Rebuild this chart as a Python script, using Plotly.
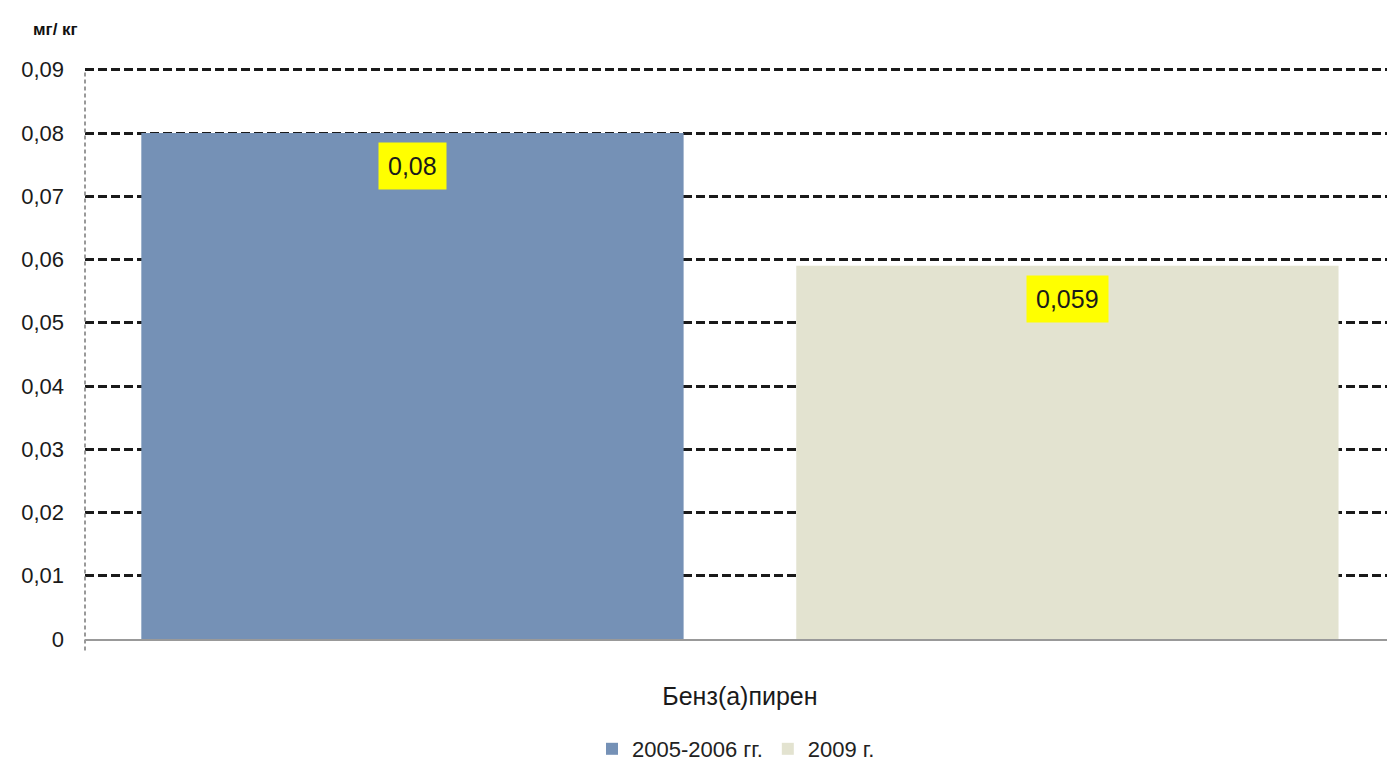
import plotly.graph_objects as go

categories = ["Бенз(а)пирен"]
series_names = ["2005-2006 гг.", "2009 г."]
values_2005 = [0.08]
values_2009 = [0.059]
label_2005 = ["0,08"]
label_2009 = ["0,059"]
tick_vals = [0, 0.01, 0.02, 0.03, 0.04, 0.05, 0.06, 0.07, 0.08, 0.09]
tick_text = ["0", "0,01", "0,02", "0,03", "0,04", "0,05", "0,06", "0,07", "0,08", "0,09"]

FONT = "Liberation Sans, Arial, sans-serif"
blue = "#7591b6"
beige = "#e3e3d0"

fig = go.Figure()
fig.add_trace(go.Bar(x=categories, y=values_2005, name=series_names[0],
                     marker=dict(color=blue, line=dict(width=0))))
fig.add_trace(go.Bar(x=categories, y=values_2009, name=series_names[1],
                     marker=dict(color=beige, line=dict(width=0))))

# data labels
for off, vals, labs in [(-0.25, values_2005, label_2005), (0.25, values_2009, label_2009)]:
    for i, (v, t) in enumerate(zip(vals, labs)):
        fig.add_annotation(x=i + off, y=v, xref="x", yref="y", text=t,
                           showarrow=False, yanchor="top", yshift=-9,
                           bgcolor="#ffff00", borderpad=9,
                           font=dict(family=FONT, size=25, color="#1a1a1a"))

# unit label
fig.add_annotation(x=0, y=1, xref="paper", yref="paper", text="<b>мг/ кг</b>",
                   showarrow=False, xanchor="right", yanchor="middle",
                   xshift=-5, yshift=37, font=dict(family=FONT, size=17, color="#111111"))

# dashed left axis line
fig.add_shape(type="line", xref="paper", yref="paper", x0=0, x1=0, y0=-0.02, y1=0.993,
              line=dict(color="#999999", width=2, dash="4px,3px"))

fig.update_layout(
    width=1387, height=770,
    margin=dict(l=85, r=0, t=66, b=130),
    paper_bgcolor="white", plot_bgcolor="white",
    barmode="group", bargap=0.0, bargroupgap=0.172,
    showlegend=True,
    legend=dict(orientation="h", x=0.5, xanchor="center", y=-0.193, yanchor="middle",
                font=dict(family=FONT, size=22, color="#222222"),
                itemwidth=30, tracegroupgap=0),
    font=dict(family=FONT, color="#222222"),
    xaxis=dict(range=[-0.5, 0.494], showgrid=False, showline=True, linecolor="#999999",
               linewidth=2, ticks="", ticklabelstandoff=34,
               tickfont=dict(family=FONT, size=25, color="#1a1a1a"), zeroline=False),
    yaxis=dict(range=[0, 0.0906], tickvals=tick_vals, ticktext=tick_text,
               showgrid=True, gridcolor="#1a1a1a", gridwidth=3, griddash="9px,4px",
               zeroline=False, showline=False, ticks="",
               ticklabelstandoff=20,
               tickfont=dict(family=FONT, size=22, color="#1a1a1a")),
)

fig.write_html("out.html")
